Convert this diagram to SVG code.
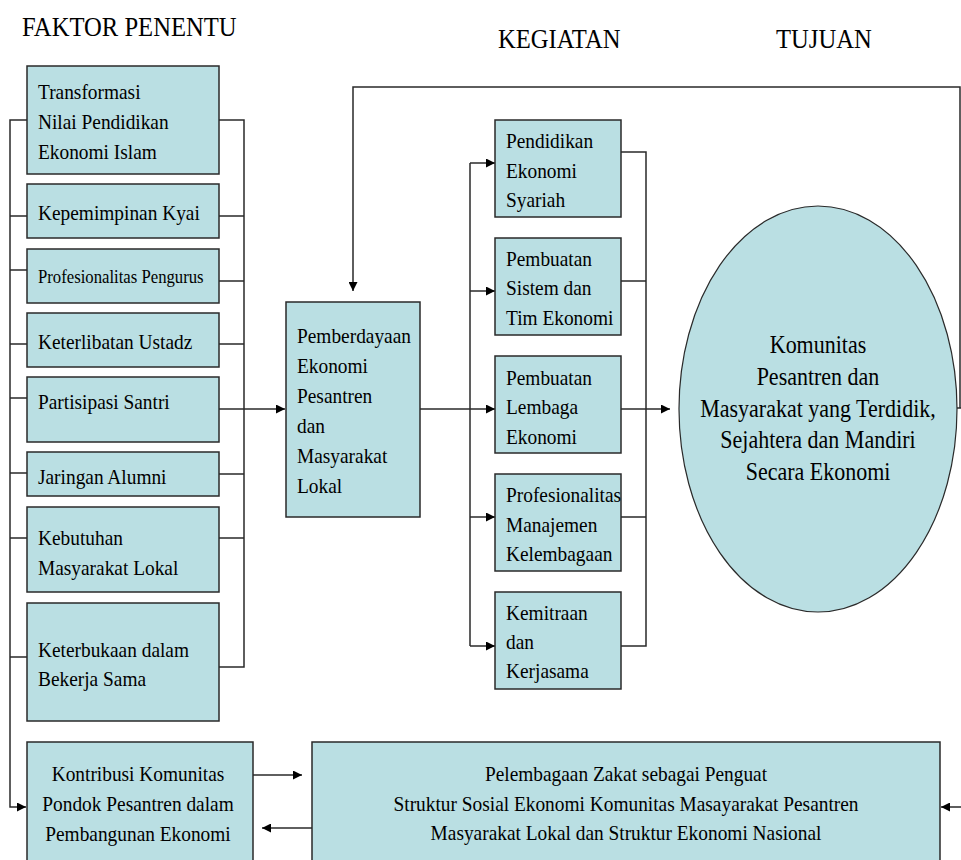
<svg xmlns="http://www.w3.org/2000/svg" width="961" height="860" viewBox="0 0 961 860">
<style>
.box{fill:#BADFE3;stroke:#2a2a2a;stroke-width:1.5}
.t{font-family:"Liberation Serif","Times New Roman",serif;font-size:22px;fill:#000}
.s{font-size:19px}
.h{font-size:28px}
.e{font-size:25px}
.c{text-anchor:middle}
.ln{fill:none;stroke:#2a2a2a;stroke-width:1.5}
</style>
<defs>
<marker id="arr" viewBox="0 0 10 10" refX="10" refY="5" markerWidth="9" markerHeight="9" markerUnits="userSpaceOnUse" orient="auto">
<path d="M0,0 L10,5 L0,10 z" fill="#000"/>
</marker>
</defs>
<rect width="961" height="860" fill="#fff"/>

<g id="headers" class="t h">
<g transform="translate(22,0) scale(0.88,1)"><text x="0" y="36">FAKTOR PENENTU</text></g>
<g transform="translate(498,0) scale(0.88,1)"><text x="0" y="48">KEGIATAN</text></g>
<g transform="translate(776,0) scale(0.88,1)"><text x="0" y="48">TUJUAN</text></g>
</g>

<g id="connectors">
<path class="ln" d="M27,120 H10 V807 H26" marker-end="url(#arr)"/>
<path class="ln" d="M27,216 H10 M27,270 H10 M27,344 H10 M27,398 H10 M27,473 H10 M27,538 H10 M27,657 H10"/>
<path class="ln" d="M219,120 H244 V667 H219 M219,216 H244 M219,281 H244 M219,344 H244 M219,474 H244 M219,538 H244"/>
<path class="ln" d="M219,409 H285" marker-end="url(#arr)"/>
<path class="ln" d="M960,408 V87 H353 V291" marker-end="url(#arr)"/>
<path class="ln" d="M957,408 H962"/>
<path class="ln" d="M962,408 V807 H941" marker-end="url(#arr)"/>
<path class="ln" d="M420,409 H495" marker-end="url(#arr)"/>
<path class="ln" d="M470,163 V646"/>
<path class="ln" d="M470,163 H495" marker-end="url(#arr)"/>
<path class="ln" d="M470,291 H495" marker-end="url(#arr)"/>
<path class="ln" d="M470,517 H495" marker-end="url(#arr)"/>
<path class="ln" d="M470,646 H495" marker-end="url(#arr)"/>
<path class="ln" d="M621,152 H646 V646 H621 M621,281 H646 M621,517 H646"/>
<path class="ln" d="M621,409 H670" marker-end="url(#arr)"/>
<path class="ln" d="M253,775 H302" marker-end="url(#arr)"/>
<path class="ln" d="M312,828 H262" marker-end="url(#arr)"/>
</g>

<g id="f1"><rect class="box" x="27" y="66" width="192" height="108"/>
<g class="t" transform="translate(38,0) scale(0.88,1)"><text x="0" y="99">Transformasi</text><text x="0" y="129">Nilai Pendidikan</text><text x="0" y="159">Ekonomi Islam</text></g></g>

<g id="f2"><rect class="box" x="27" y="184" width="192" height="54"/>
<g class="t" transform="translate(38,0) scale(0.88,1)"><text x="0" y="220">Kepemimpinan Kyai</text></g></g>

<g id="f3"><rect class="box" x="27" y="249" width="192" height="54"/>
<g class="t s" transform="translate(38,0) scale(0.88,1)"><text x="0" y="283">Profesionalitas Pengurus</text></g></g>

<g id="f4"><rect class="box" x="27" y="313" width="192" height="54"/>
<g class="t" transform="translate(38,0) scale(0.88,1)"><text x="0" y="349">Keterlibatan Ustadz</text></g></g>

<g id="f5"><rect class="box" x="27" y="377" width="192" height="65"/>
<g class="t" transform="translate(38,0) scale(0.88,1)"><text x="0" y="409">Partisipasi Santri</text></g></g>

<g id="f6"><rect class="box" x="27" y="452" width="192" height="44"/>
<g class="t" transform="translate(38,0) scale(0.88,1)"><text x="0" y="484">Jaringan Alumni</text></g></g>

<g id="f7"><rect class="box" x="27" y="507" width="192" height="85"/>
<g class="t" transform="translate(38,0) scale(0.88,1)"><text x="0" y="545">Kebutuhan</text><text x="0" y="575">Masyarakat Lokal</text></g></g>

<g id="f8"><rect class="box" x="27" y="603" width="192" height="118"/>
<g class="t" transform="translate(38,0) scale(0.88,1)"><text x="0" y="657">Keterbukaan dalam</text><text x="0" y="686">Bekerja Sama</text></g></g>

<g id="kontribusi"><rect class="box" x="27" y="742" width="226" height="130"/>
<g class="t c" transform="translate(138,0) scale(0.88,1)"><text x="0" y="781">Kontribusi Komunitas</text><text x="0" y="811">Pondok Pesantren dalam</text><text x="0" y="841">Pembangunan Ekonomi</text></g></g>

<g id="pemberdayaan"><rect class="box" x="286" y="302" width="134" height="215"/>
<g class="t" transform="translate(297,0) scale(0.88,1)"><text x="0" y="343">Pemberdayaan</text><text x="0" y="373">Ekonomi</text><text x="0" y="403">Pesantren</text><text x="0" y="433">dan</text><text x="0" y="463">Masyarakat</text><text x="0" y="493">Lokal</text></g></g>

<g id="k1"><rect class="box" x="495" y="120" width="126" height="97"/>
<g class="t" transform="translate(506,0) scale(0.88,1)"><text x="0" y="148">Pendidikan</text><text x="0" y="178">Ekonomi</text><text x="0" y="207">Syariah</text></g></g>

<g id="k2"><rect class="box" x="495" y="238" width="126" height="97"/>
<g class="t" transform="translate(506,0) scale(0.88,1)"><text x="0" y="266">Pembuatan</text><text x="0" y="295">Sistem dan</text><text x="0" y="325">Tim Ekonomi</text></g></g>

<g id="k3"><rect class="box" x="495" y="356" width="126" height="97"/>
<g class="t" transform="translate(506,0) scale(0.88,1)"><text x="0" y="385">Pembuatan</text><text x="0" y="414">Lembaga</text><text x="0" y="444">Ekonomi</text></g></g>

<g id="k4"><rect class="box" x="495" y="474" width="126" height="97"/>
<g class="t" transform="translate(506,0) scale(0.88,1)"><text x="0" y="502">Profesionalitas</text><text x="0" y="532">Manajemen</text><text x="0" y="561">Kelembagaan</text></g></g>

<g id="k5"><rect class="box" x="495" y="592" width="126" height="97"/>
<g class="t" transform="translate(506,0) scale(0.88,1)"><text x="0" y="620">Kemitraan</text><text x="0" y="649">dan</text><text x="0" y="678">Kerjasama</text></g></g>

<g id="tujuan"><ellipse class="box" cx="818" cy="409" rx="139" ry="203" style="stroke-width:1.2"/>
<g class="t e c" transform="translate(818,0) scale(0.88,1)"><text x="0" y="353">Komunitas</text><text x="0" y="385">Pesantren dan</text><text x="0" y="417">Masyarakat yang Terdidik,</text><text x="0" y="448">Sejahtera dan Mandiri</text><text x="0" y="480">Secara Ekonomi</text></g></g>

<g id="zakat"><rect class="box" x="312" y="742" width="628" height="130"/>
<g class="t c" transform="translate(626,0) scale(0.88,1)"><text x="0" y="781">Pelembagaan Zakat sebagai Penguat</text><text x="0" y="811">Struktur Sosial Ekonomi Komunitas Masayarakat Pesantren</text><text x="0" y="840">Masyarakat Lokal dan Struktur Ekonomi Nasional</text></g></g>
</svg>
